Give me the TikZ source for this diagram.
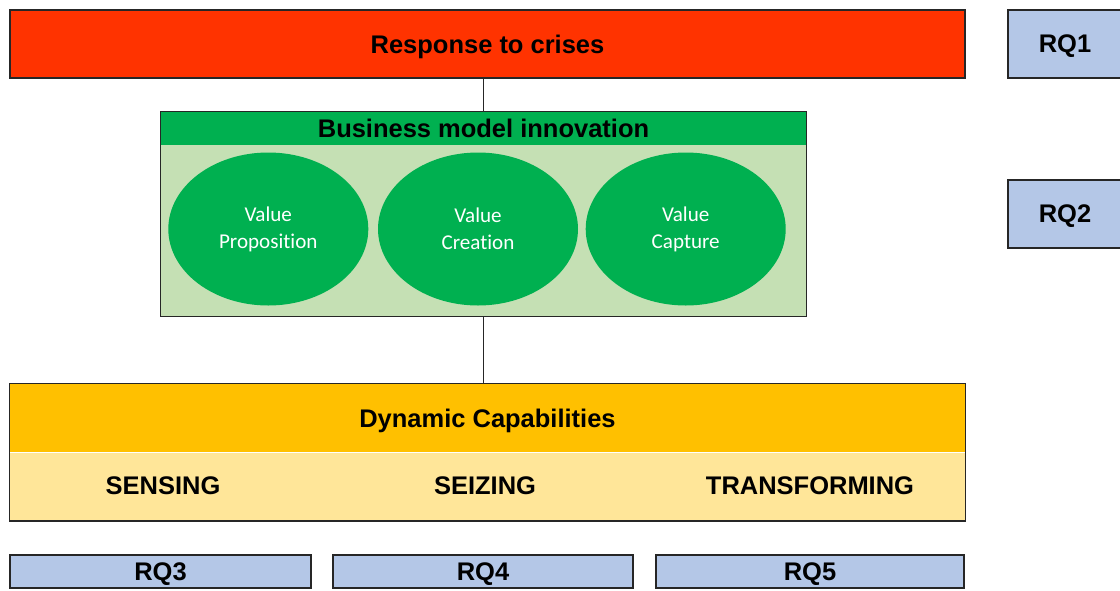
\documentclass[tikz,border=0pt]{standalone}
\usepackage{fontspec}
\setmainfont{Liberation Sans}
\newfontfamily\ellfont[Ligatures=NoCommon]{Carlito}
\usepackage{xcolor}
\usetikzlibrary{shapes.geometric, positioning}
\definecolor{crisisred}{HTML}{FF3300}
\definecolor{bmgreen}{HTML}{00B050}
\definecolor{bmlight}{HTML}{C5E0B4}
\definecolor{dcorange}{HTML}{FFC000}
\definecolor{dclight}{HTML}{FFE699}
\definecolor{rqblue}{HTML}{B4C7E7}
\definecolor{edge}{HTML}{262626}

\begin{document}
\begin{tikzpicture}[font=\fontsize{14.5}{17}\selectfont\bfseries,
        bar/.style={draw=edge, line width=0.8pt, inner sep=0pt, text depth=0pt},
        band/.style={inner sep=0pt, text depth=0pt, minimum width=19.1cm, minimum height=1.36cm},
        rq/.style={bar, fill=rqblue, minimum height=0.66cm},
        valuebox/.style={ellipse, fill=bmgreen, text=white, inner sep=0pt,
          minimum width=4cm, minimum height=3.06cm, align=center,
          font=\ellfont\fontsize{12}{15.5}\selectfont},
        link/.style={draw=edge, line width=0.8pt}]
        \useasboundingbox (0,0) rectangle (22.4,-11.8);
        % top layer and research questions on the right
        \node[bar, fill=crisisred, minimum width=19.1cm, minimum height=1.36cm] (crisis) at (9.75,-0.88) {Response to crises};
        \node[rq, minimum width=2.28cm, minimum height=1.36cm] (rq1) at (21.3,-0.88) {RQ1};
        \node[rq, minimum width=2.28cm, minimum height=1.36cm] (rq2) at (21.3,-4.28) {RQ2};
        % business model innovation
        \node[fill=bmlight, inner sep=0pt, minimum width=12.9cm, minimum height=4.08cm] (bmi) at (9.67,-4.28) {};
        \node[fill=bmgreen, anchor=north, inner sep=0pt, text depth=0pt, minimum width=12.9cm, minimum height=0.66cm] (bmihead) at (bmi.north) {Business model innovation};
        \draw[link] (bmi.south west) rectangle (bmi.north east);
        \node[valuebox] (vcreate) at (9.56,-4.58) {Value\\Creation};
        \node[valuebox, left=0.18cm of vcreate] (vprop) {Value\\Proposition};
        \node[valuebox, right=0.14cm of vcreate] (vcapt) {Value\\Capture};
        % dynamic capabilities
        \node[band, fill=dcorange] (dchead) at (9.75,-8.36) {Dynamic Capabilities};
        \node[band, fill=dclight, below=0cm of dchead] (dcbody) {};
        \draw[link] (dchead.north west) rectangle (dcbody.south east);
        \node[text depth=0pt] (sensing) at (3.26,-9.72) {SENSING};
        \node[text depth=0pt] (seizing) at (9.7,-9.72) {SEIZING};
        \node[text depth=0pt] (transf) at (16.2,-9.72) {TRANSFORMING};
        % research questions per capability
        \node[rq, minimum width=6.02cm] (rq3) at (3.21,-11.43) {RQ3};
        \node[rq, minimum width=6.0cm] (rq4) at (9.66,-11.43) {RQ4};
        \node[rq, minimum width=6.16cm] (rq5) at (16.2,-11.43) {RQ5};
        \draw[link] (bmihead.north |- crisis.south) -- (bmihead.north);
        \draw[link] (bmi.south) -- (bmi.south |- dchead.north);
      \end{tikzpicture}
\end{document}
